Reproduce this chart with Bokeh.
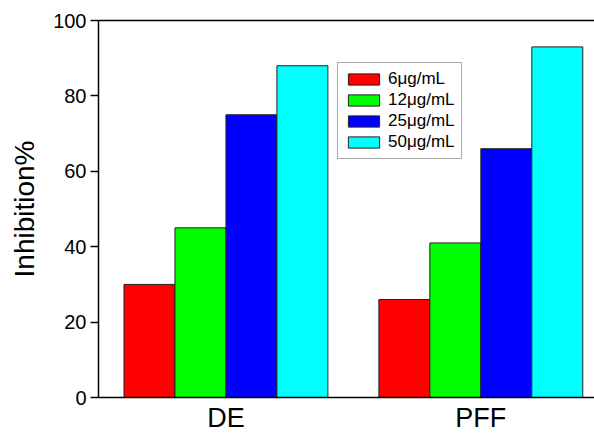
from bokeh.plotting import figure
from bokeh.models import (ColumnDataSource, FixedTicker, LinearAxis, Legend, LegendItem, Range1d)
from bokeh.embed import file_html
from bokeh.resources import INLINE

groups = ["DE", "PFF"]
series = ["6\u03bcg/mL", "12\u03bcg/mL", "25\u03bcg/mL", "50\u03bcg/mL"]
colors = ["#FF0000", "#00FF00", "#0000FF", "#00FFFF"]
values = {
    "6\u03bcg/mL": [30, 26],
    "12\u03bcg/mL": [45, 41],
    "25\u03bcg/mL": [75, 66],
    "50\u03bcg/mL": [88, 93],
}
y_ticks = [0, 20, 40, 60, 80, 100]
y_title = "Inhibition%"

FONT = "Liberation Sans"
n_s = len(series)
group_step = n_s + 1  # one empty slot between groups

p = figure(width=594, height=435, output_backend="svg", toolbar_location=None,
           x_range=Range1d(0, 9.73), y_range=Range1d(0, 100),
           min_border_left=98, min_border_right=0, min_border_top=20, min_border_bottom=37)
p.outline_line_color = None
p.xgrid.visible = False
p.ygrid.visible = False

items = []
for si, s in enumerate(series):
    xs = [gi * group_step + si + 1 for gi in range(len(groups))]
    src = ColumnDataSource(dict(x=xs, top=values[s]))
    r = p.vbar(x="x", top="top", width=1.0, bottom=0, source=src,
               fill_color=colors[si], line_color="#222222", line_width=1)
    items.append(LegendItem(label=s, renderers=[r]))

centers = [gi * group_step + (n_s + 1) / 2 for gi in range(len(groups))]

xa = p.xaxis[0]
xa.ticker = FixedTicker(ticks=centers)
xa.major_label_overrides = {c: g for c, g in zip(centers, groups)}
xa.major_tick_line_color = None
xa.minor_tick_line_color = None
xa.major_tick_out = 0
xa.major_tick_in = 0
xa.major_label_standoff = 5
xa.major_label_text_font = FONT
xa.major_label_text_font_size = "27px"
xa.major_label_text_color = "black"
xa.axis_line_width = 1.5
xa.axis_line_color = "black"

ya = p.yaxis[0]
ya.ticker = FixedTicker(ticks=y_ticks)
ya.minor_tick_line_color = None
ya.major_tick_out = 8
ya.major_tick_in = 0
ya.major_tick_line_width = 1.5
ya.major_label_standoff = 4
ya.major_label_text_font = FONT
ya.major_label_text_font_size = "20px"
ya.major_label_text_color = "black"
ya.axis_line_width = 1.5
ya.axis_line_color = "black"
ya.axis_label = y_title
ya.axis_label_text_font = FONT
ya.axis_label_text_font_size = "28px"
ya.axis_label_text_font_style = "normal"
ya.axis_label_text_color = "black"
ya.axis_label_standoff = 10

top = LinearAxis(ticker=FixedTicker(ticks=[]), axis_line_width=1.5, axis_line_color="black",
                 major_tick_line_color=None, minor_tick_line_color=None,
                 major_label_text_font_size="0px")
p.add_layout(top, "above")

legend = Legend(items=items, location=(239, 238),
                label_text_font=FONT, label_text_font_size="17px", label_text_color="black",
                glyph_width=39, glyph_height=14, label_standoff=5, spacing=1,
                padding=6, margin=0, border_line_color="#555555", border_line_width=1,
                background_fill_color="white", background_fill_alpha=1.0)
p.add_layout(legend, "center")

open("out.html", "w").write(file_html(p, INLINE))
